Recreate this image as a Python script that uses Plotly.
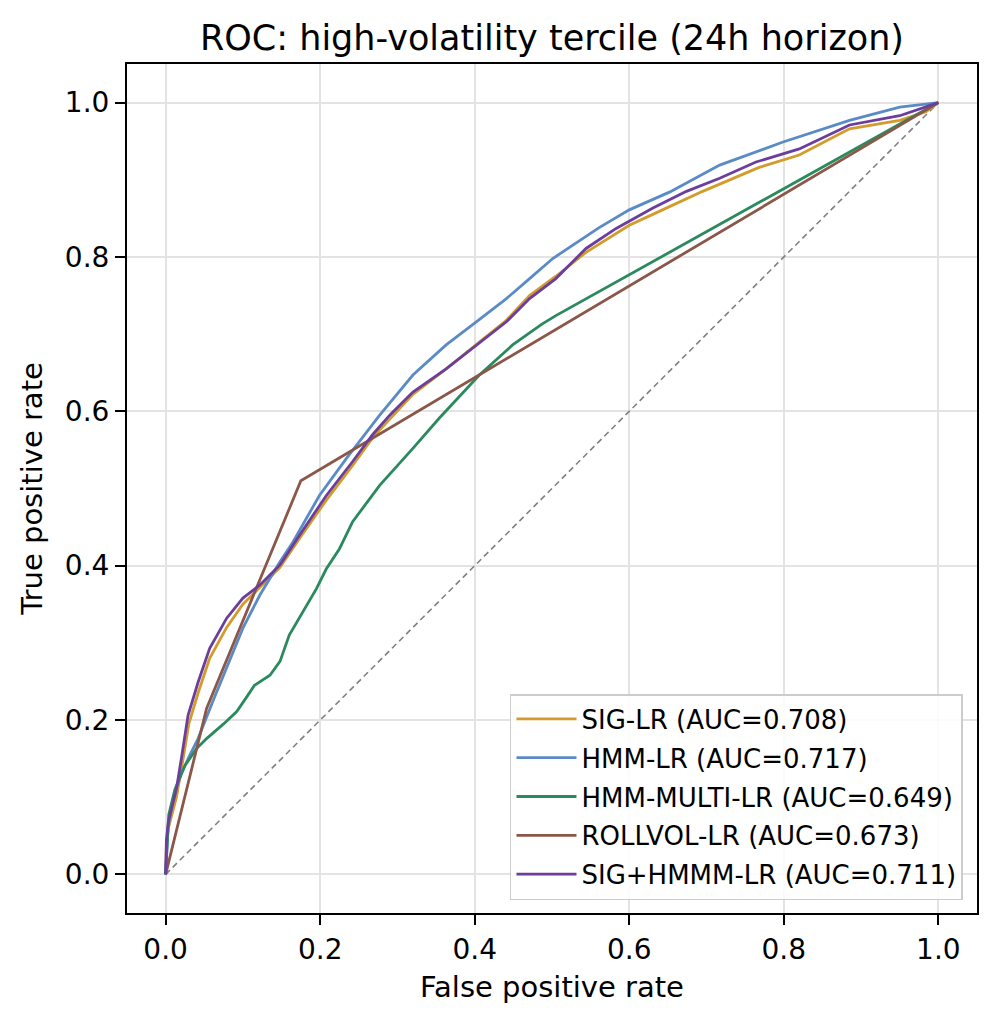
import plotly.graph_objects as go

# ROC curves (false positive rate, true positive rate)
sig_fpr = [0.0, 0.001, 0.0035, 0.014, 0.021, 0.030, 0.042, 0.057, 0.079, 0.100, 0.122, 0.148,
           0.173, 0.208, 0.242, 0.268, 0.290, 0.320, 0.363, 0.408, 0.441, 0.471, 0.505, 0.544,
           0.600, 0.643, 0.695, 0.768, 0.820, 0.885, 0.950, 0.984, 1.0]
sig_tpr = [0.0, 0.035, 0.060, 0.100, 0.140, 0.195, 0.235, 0.280, 0.320, 0.350, 0.372, 0.398,
           0.435, 0.485, 0.530, 0.566, 0.590, 0.622, 0.655, 0.692, 0.718, 0.750, 0.775, 0.806,
           0.841, 0.861, 0.885, 0.916, 0.932, 0.966, 0.977, 0.988, 1.0]

hmm_fpr = [0.0, 0.003, 0.010, 0.020, 0.031, 0.042, 0.061, 0.079, 0.100, 0.122, 0.148, 0.165,
           0.199, 0.234, 0.277, 0.320, 0.363, 0.402, 0.441, 0.471, 0.501, 0.561, 0.600,
           0.652, 0.717, 0.799, 0.885, 0.950, 1.0]
hmm_tpr = [0.0, 0.060, 0.100, 0.130, 0.154, 0.176, 0.224, 0.267, 0.319, 0.362, 0.405, 0.431,
           0.491, 0.539, 0.595, 0.647, 0.686, 0.716, 0.746, 0.772, 0.798, 0.838, 0.861,
           0.884, 0.919, 0.949, 0.977, 0.994, 1.0]

multi_fpr = [0.0, 0.002, 0.004, 0.012, 0.025, 0.040, 0.053, 0.075, 0.092, 0.105, 0.115, 0.135,
             0.148, 0.160, 0.173, 0.195, 0.208, 0.225, 0.242, 0.277, 0.320, 0.354, 0.406, 0.449,
             0.487, 0.505, 1.0]
multi_tpr = [0.0, 0.050, 0.077, 0.110, 0.141, 0.163, 0.176, 0.195, 0.211, 0.230, 0.245, 0.258,
             0.276, 0.310, 0.332, 0.370, 0.396, 0.422, 0.457, 0.504, 0.552, 0.591, 0.647, 0.686,
             0.713, 0.724, 1.0]

roll_fpr = [0.0, 0.053, 0.175, 1.0]
roll_tpr = [0.0, 0.215, 0.510, 1.0]

combo_fpr = [0.0, 0.001, 0.0035, 0.014, 0.021, 0.029, 0.042, 0.057, 0.079, 0.100, 0.122, 0.148,
             0.173, 0.208, 0.242, 0.268, 0.290, 0.320, 0.363, 0.408, 0.441, 0.471, 0.505, 0.544,
             0.583, 0.630, 0.674, 0.717, 0.764, 0.820, 0.885, 0.950, 1.0]
combo_tpr = [0.0, 0.045, 0.068, 0.111, 0.154, 0.206, 0.249, 0.293, 0.332, 0.358, 0.375, 0.401,
             0.439, 0.491, 0.535, 0.570, 0.595, 0.625, 0.655, 0.690, 0.716, 0.746, 0.772, 0.811,
             0.837, 0.863, 0.885, 0.902, 0.923, 0.940, 0.971, 0.983, 1.0]

names = ["SIG-LR (AUC=0.708)", "HMM-LR (AUC=0.717)", "HMM-MULTI-LR (AUC=0.649)",
         "ROLLVOL-LR (AUC=0.673)", "SIG+HMMM-LR (AUC=0.711)"]
colors = ["#D39B2B", "#5A8BC6", "#2A8A5E", "#8B5748", "#6B3E9E"]

curves = [(sig_fpr, sig_tpr), (hmm_fpr, hmm_tpr), (multi_fpr, multi_tpr),
          (roll_fpr, roll_tpr), (combo_fpr, combo_tpr)]

font = "DejaVu Sans"

fig = go.Figure()

# chance line
fig.add_trace(go.Scatter(x=[0, 1], y=[0, 1], mode="lines", showlegend=False,
                         line=dict(color="#808080", width=1.6, dash="6px,4px"),
                         hoverinfo="skip"))

for i, ((fx, ty), name, col) in enumerate(zip(curves, names, colors)):
    fig.add_trace(go.Scatter(x=fx, y=ty, mode="lines", name=name, legendgroup=str(i),
                             line=dict(color=col, width=2.8)))

axis_common = dict(
    showline=True, linecolor="black", linewidth=2, mirror=True,
    ticks="outside", ticklen=10, tickwidth=1.6, tickcolor="black",
    showgrid=True, gridcolor="#e3e3e3", gridwidth=1.6, zeroline=False,
    tickfont=dict(family=font, size=28, color="black"),
    tickvals=[0, 0.2, 0.4, 0.6, 0.8, 1.0], ticktext=["0.0", "0.2", "0.4", "0.6", "0.8", "1.0"],
    range=[-0.05, 1.05],
)

fig.update_layout(
    width=990, height=1016,
    margin=dict(l=119, r=21, t=56, b=111),
    paper_bgcolor="white", plot_bgcolor="white",
    font=dict(family=font, color="black"),
    title=dict(text="ROC: high-volatility tercile (24h horizon)", x=0.5, xref="paper",
               y=1 - 30 / 1016, yref="container", yanchor="middle",
               font=dict(family=font, size=35, color="black")),
    xaxis=dict(axis_common, title=dict(text="False positive rate", standoff=12,
                                       font=dict(family=font, size=29))),
    yaxis=dict(axis_common, title=dict(text="True positive rate", standoff=14,
                                       font=dict(family=font, size=29))),
    legend=dict(x=0.9835, y=0.0153, xanchor="right", yanchor="bottom",
                bgcolor="rgba(255,255,255,0.85)", bordercolor="#cccccc", borderwidth=1.5,
                font=dict(family=font, size=26), tracegroupgap=2, itemwidth=60),
    showlegend=True,
)

fig.write_html("out.html")
